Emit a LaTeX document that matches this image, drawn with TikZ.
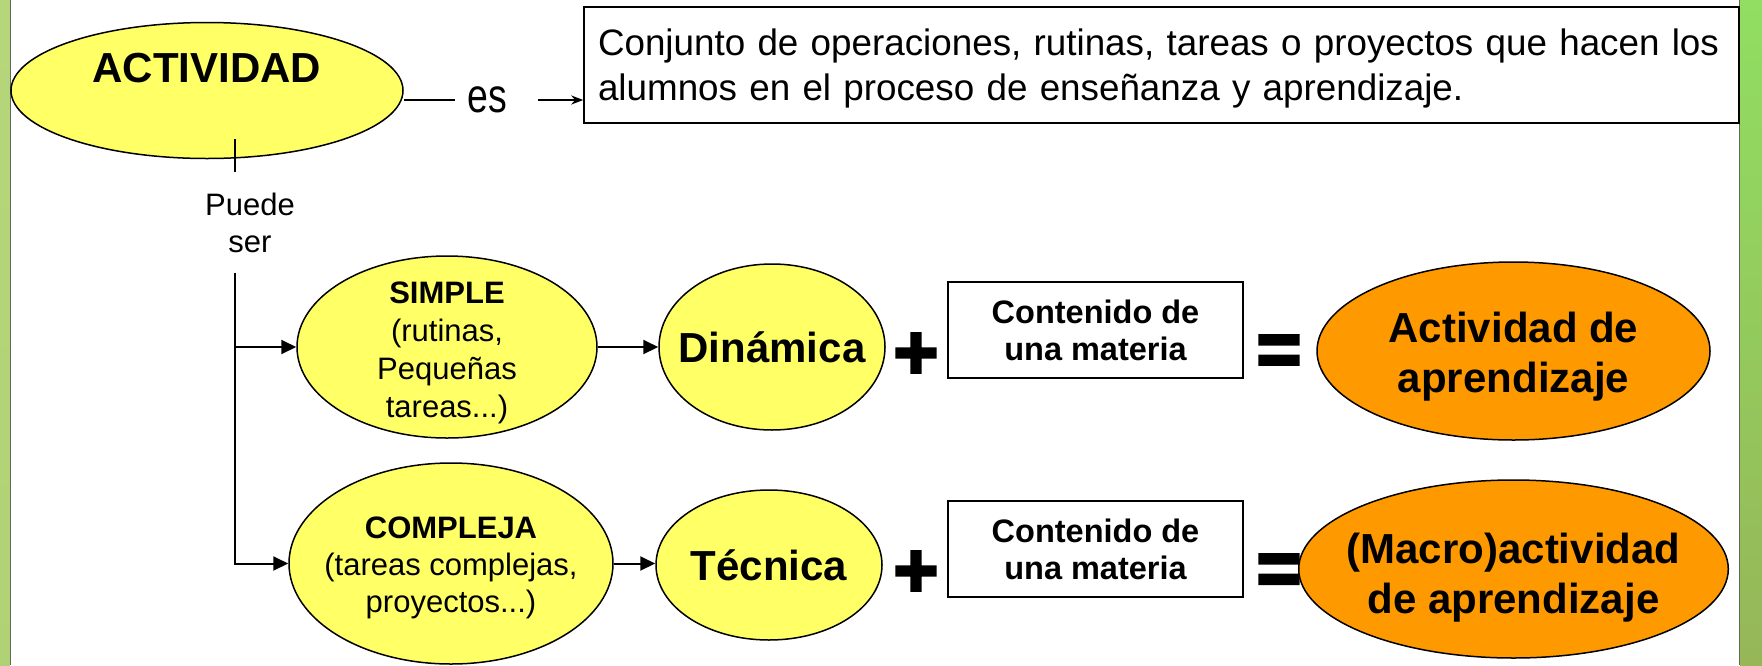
\documentclass[tikz,border=0pt]{standalone}
\usepackage{fontspec}
\setmainfont{Liberation Sans}
\newfontfamily\narrowfont[FakeStretch=0.78]{Liberation Sans}
\newfontfamily\signfont[FakeBold=4]{Liberation Sans Bold}
\usetikzlibrary{shapes.geometric, arrows.meta, positioning, calc}
\definecolor{ideayellow}{RGB}{255, 255, 102}
\definecolor{resultorange}{RGB}{255, 153, 0}
\definecolor{edgegreen}{RGB}{181, 214, 122}
\definecolor{edgegreendark}{RGB}{150, 182, 88}
\definecolor{edgegray}{RGB}{95, 105, 85}

\begin{document}
\begin{tikzpicture}[x=1pt, y=-1pt,
  idea/.style={ellipse, draw, line width=1.5pt, fill=ideayellow, inner sep=-15pt, align=center},
  result/.style={ellipse, draw, line width=1.5pt, fill=resultorange, inner sep=-15pt, align=center,
    minimum width=393pt, minimum height=178pt, font=\bfseries\fontsize{42}{50}\selectfont},
  subject/.style={draw, line width=1.5pt, fill=white, minimum width=295pt, minimum height=96pt,
    align=center, font=\bfseries\fontsize{32.5}{37}\selectfont},
  link/.style={line width=2pt, -{Triangle[length=15pt, width=14pt]}},
  sign/.style={inner sep=0pt, font=\signfont\fontsize{76}{76}\selectfont}]
  \useasboundingbox (0,0) rectangle (1762,665);

  % Slide frame
  \fill[white] (0,0) rectangle (1762,665);
  \shade[top color=edgegreen, bottom color=edgegreen!85!edgegreendark] (0,0) rectangle (10,665);
  \shade[top color=edgegreen!80!green, bottom color=edgegreendark] (1740,0) rectangle (1762,665);
  \draw[edgegray, line width=1.5pt] (10.5,0) -- (10.5,665);
  \draw[edgegray, line width=1.5pt] (1739.5,0) -- (1739.5,665);

  % Definition
  \node[idea, minimum width=392pt, minimum height=136pt, text depth=45pt,
    font=\bfseries\fontsize{42}{50}\selectfont] (act) at (207, 90.5) {ACTIVIDAD};
  \node[draw, line width=1.5pt, fill=white, text width=1127pt, inner xsep=14pt, inner ysep=0pt,
    minimum height=116pt, align=left, font=\fontsize{36.8}{45}\selectfont] (def) at (1161.5, 65)
    {\mbox{\rule{0pt}{33pt}Conjunto de operaciones, rutinas, tareas o proyectos que hacen los}\\
     \mbox{alumnos en el proceso de enseñanza y aprendizaje.}};
  \node[inner xsep=12pt, font=\narrowfont\fontsize{48}{50}\selectfont] (es) at (487, 100) {es};

  \draw[line width=2pt] (act.east |- es.west) -- (es.west);
  \draw[line width=2pt, -{Stealth[length=12pt, width=9pt]}, shorten <=19pt] (es.east) -- (es.east -| def.west);

  % Kinds of activity
  \node[inner sep=20pt, align=center, font=\fontsize{31}{37}\selectfont] (puede) at (250, 222.5) {Puede\\ser};
  \coordinate (tick) at (235, 139);
  \draw[line width=2pt] (tick) -- (tick |- puede.north);

  \node[idea, minimum width=300pt, minimum height=182pt, font=\fontsize{31}{38}\selectfont] (simple) at (447, 347)
    {\rule{0pt}{34pt}\textbf{SIMPLE}\\(rutinas,\\Pequeñas\\tareas...)};
  \node[idea, minimum width=324pt, minimum height=201pt, font=\fontsize{31}{37}\selectfont] (comp) at (451, 563.5)
    {\rule{0pt}{30pt}\textbf{COMPLEJA}\\(tareas complejas,\\proyectos...)};

  \draw[link] (tick |- puede.south) |- (comp.west);
  \draw[link] (tick |- simple.west) -- (simple.west);

  % Simple activity row
  \node[idea, minimum width=226pt, minimum height=166pt, font=\bfseries\fontsize{42}{50}\selectfont] (din) at (772, 347) {Dinámica};
  \node[sign] (plus1) at (916, 356) {+};
  \node[subject] (mat1) at (1095.5, 330) {Contenido de\\una materia};
  \node[sign] (eq1) at (1279, 355.5) {=};
  \node[result] (res1) at (1513.5, 351) {\rule{0pt}{41pt}Actividad de\\aprendizaje};
  \draw[link] (simple.east) -- (din.west);

  % Complex activity row
  \node[idea, minimum width=226pt, minimum height=150pt, font=\bfseries\fontsize{42}{50}\selectfont] (tec) at (769, 565) {Técnica};
  \node[sign] (plus2) at (916, 574) {+};
  \node[subject] (mat2) at (1095.5, 549) {Contenido de\\una materia};
  \node[sign] (eq2) at (1279, 574.5) {=};
  \node[result] (res2) at (1513.5, 569) {\rule{0pt}{47pt}(Macro)actividad\\de aprendizaje};
  \draw[link] (comp.east) -- (comp.east -| tec.west);
\end{tikzpicture}
\end{document}
